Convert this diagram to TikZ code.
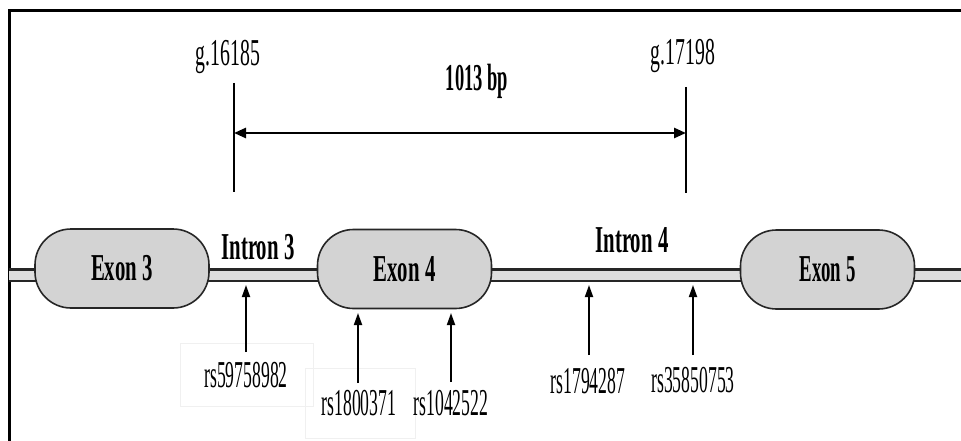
\documentclass[tikz,border=0pt]{standalone}
\usepackage{fontspec}
\setmainfont{Liberation Serif}
\usetikzlibrary{arrows.meta}
\definecolor{exonfill}{HTML}{D3D3D3}
\definecolor{linefill}{HTML}{DEDEDE}
\definecolor{faintbox}{HTML}{F0F0F0}
\newcommand{\sx}[2]{\scalebox{#1}[1]{#2}}
\tikzset{
  exon/.style={draw=black!85, line width=1.6pt, fill=exonfill, rounded corners=36pt,
    minimum width=174pt, minimum height=79pt, inner sep=0pt,
    font=\fontsize{38}{38}\selectfont\bfseries},
  lbl/.style={inner sep=0pt, anchor=base, font=\fontsize{38}{38}\selectfont},
  bld/.style={inner sep=0pt, anchor=base, font=\fontsize{38}{38}\selectfont\bfseries},
  snp/.style={line width=1.8pt, -{Triangle[length=12pt,width=8pt]}},
  spanarrow/.style={line width=2.6pt, {Triangle[length=12pt,width=10pt]}-{Triangle[length=12pt,width=10pt]}},
  tickline/.style={line width=1.8pt},
  framel/.style={line width=3pt},
  faint/.style={draw=faintbox, line width=0.6pt},
}
\begin{document}
\begin{tikzpicture}[x=1pt,y=-1pt]
\useasboundingbox (0,0) rectangle (961,441);
% frame
\draw[framel] (9.5,441) -- (9.5,10.5) -- (961,10.5);
% faint text boxes
\draw[faint] (180,343) rectangle (313,406);
\draw[faint] (305,368) rectangle (415,438);
% gene line
\coordinate (gl) at (9,275);
\coordinate (gr) at (961,275);
\draw[line width=14pt, black!85] (gl) -- (gr);
\draw[line width=9pt, linefill] (gl) -- (gr);
% exons
\node[exon] (ex3) at (122,268.5) {\raisebox{-1.5pt}{\sx{0.547}{Exon 3}}};
\node[exon] (ex4) at (404.5,269) {\raisebox{-1.5pt}{\sx{0.547}{Exon 4}}};
\node[exon] (ex5) at (827.5,269.5) {\raisebox{-1pt}{\sx{0.495}{Exon 5}}};
% intron labels
\node[bld] (in3) at (258,259) {\sx{0.547}{Intron 3}};
\node[bld] (in4) at (632,252) {\sx{0.547}{Intron 4}};
% genomic positions
\node[lbl] (g1) at (228,66) {\sx{0.52}{g.16185}};
\node[lbl] (g2) at (683,65) {\sx{0.52}{g.17198}};
\node[bld] (bp) at (477,91) {\sx{0.486}{1013 bp}};
\coordinate (t1a) at (234,83);
\coordinate (t1b) at (234,192);
\coordinate (t2a) at (686,87);
\coordinate (t2b) at (686,193);
\draw[tickline] (t1a) -- (t1b);
\draw[tickline] (t2a) -- (t2b);
\coordinate (sa) at (234,133);
\coordinate (sb) at (686,133);
\draw[spanarrow] (sa) -- (sb);
% SNPs
\node[lbl] (r1) at (246,387) {\sx{0.465}{rs59758982}};
\node[lbl] (r2) at (359,415) {\sx{0.465}{rs1800371}};
\node[lbl] (r3) at (451,415) {\sx{0.465}{rs1042522}};
\node[lbl] (r4) at (588,393) {\sx{0.465}{rs1794287}};
\node[lbl] (r5) at (693,392) {\sx{0.465}{rs35850753}};
\coordinate (a1b) at (246,352); \coordinate (a1t) at (246,285);
\coordinate (a2b) at (358,383); \coordinate (a2t) at (358,313);
\coordinate (a3b) at (451,382); \coordinate (a3t) at (451,313);
\coordinate (a4b) at (589,355); \coordinate (a4t) at (589,285);
\coordinate (a5b) at (693,355); \coordinate (a5t) at (693,285);
\draw[snp] (a1b) -- (a1t);
\draw[snp] (a2b) -- (a2t);
\draw[snp] (a3b) -- (a3t);
\draw[snp] (a4b) -- (a4t);
\draw[snp] (a5b) -- (a5t);
\end{tikzpicture}
\end{document}
